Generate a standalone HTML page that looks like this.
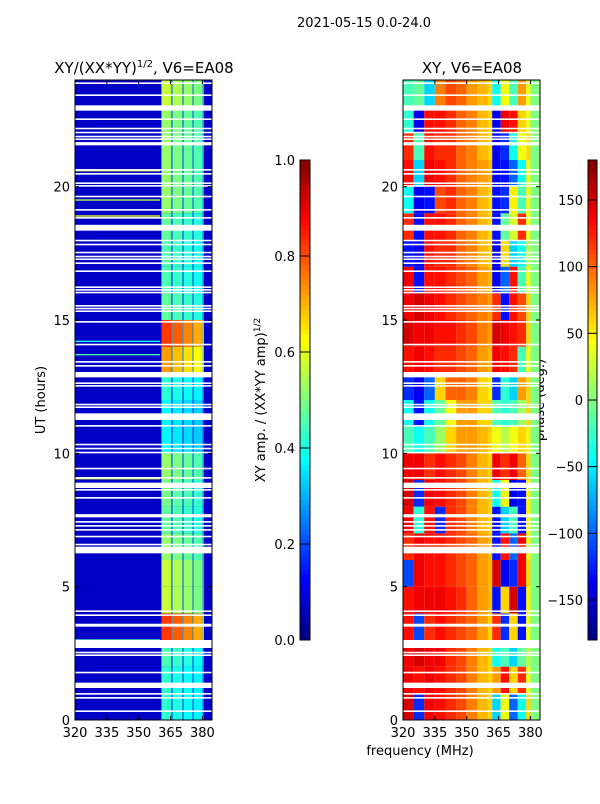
<!DOCTYPE html>
<html><head><meta charset="utf-8">
<style>
body{margin:0;background:#fff;width:600px;height:800px;overflow:hidden;font-family:"DejaVu Sans","Liberation Sans",sans-serif;}
svg text{font-family:"DejaVu Sans","Liberation Sans",sans-serif;fill:#000;}
</style></head>
<body>
<svg id="fig" width="600" height="800" xmlns="http://www.w3.org/2000/svg">
<text x="364" y="27" font-size="13" text-anchor="middle">2021-05-15 0.0-24.0</text>
<text x="144" y="73" font-size="15" text-anchor="middle">XY/(XX*YY)<tspan font-size="10" dy="-6">1/2</tspan><tspan dy="6">, V6=EA08</tspan></text>
<text x="472" y="73" font-size="15" text-anchor="middle">XY, V6=EA08</text>
<text x="45" y="400" font-size="13" text-anchor="middle" transform="rotate(-90 45 400)">UT (hours)</text>
<text x="420" y="755" font-size="13" text-anchor="middle">frequency (MHz)</text>
<text x="265" y="400" font-size="13" text-anchor="middle" transform="rotate(-90 265 400)">XY amp. / (XX*YY amp)<tspan font-size="9" dy="-5">1/2</tspan></text>
<text x="544" y="400" font-size="13" text-anchor="middle" transform="rotate(-90 544 400)">phase (deg.)</text>
<g id="left"></g>
<g id="right"></g>
<g id="cb1"></g>
<g id="cb2"></g>
<g id="axes"></g>
</svg>
<script>
// ---- data ----
const freqTicks = [320, 335, 350, 365, 380];
const utTicks = [0, 5, 10, 15, 20];
const ampTicks = [0.0, 0.2, 0.4, 0.6, 0.8, 1.0];
const phaseTicks = [-150, -100, -50, 0, 50, 100, 150];
// amplitude: bright band channels [fStart, fEnd, weight]
const bandStart = [360.7, 365.4, 365.9, 370.6, 371.1, 375.4, 375.8, 380.1];
const bandEnd   = [365.4, 365.9, 370.6, 371.1, 375.4, 375.8, 380.1, 380.7];
const bandWeight= [1.0, 0.3, 0.95, 0.3, 0.9, 0.3, 0.85, 0.5];
const ampBase = 0.07;
// per-hour amplitude of band (UT 0..23)
const hourAmp = [0.35,0.35,0.38,0.75,0.5,0.5,0.45,0.4,0.42,0.45,0.3,0.3,0.35,0.65,0.75,0.4,0.38,0.38,0.4,0.45,0.45,0.45,0.45,0.5];
// interference streaks (UT, amplitude)
const streakUT = [20.6, 19.5, 18.9, 14.2, 13.7, 9.05, 3.0];
const streakAmp = [0.6, 0.55, 0.6, 0.4, 0.45, 0.6, 0.45];
// phase grid: column edges (MHz) and per-hour values (deg)
const phaseEdges = [320,325,330,335,340,345,350,355,360,362,366,370,374,378,380,384.5];
const phaseRows = [
[150,-120,140,130,120,110,90,70,60,-60,40,-100,-40,60,0],
[140,130,140,130,120,110,90,70,60,80,130,60,120,40,0],
[140,150,140,140,120,110,90,70,60,-40,-20,-60,-10,20,0],
[130,-110,120,130,120,110,100,80,60,120,-120,60,-130,40,0],
[130,140,140,140,130,120,100,80,70,-130,60,150,-130,50,0],
[-110,140,130,130,120,110,100,80,70,150,-140,-120,140,60,0],
[120,140,130,130,120,110,100,80,70,-130,130,-100,140,50,0],
[140,-30,130,-120,120,110,90,70,60,-130,-60,-20,-130,50,0],
[150,-120,140,130,120,110,90,70,60,-40,40,-140,-130,50,0],
[140,140,120,130,120,110,90,70,60,140,120,140,100,60,0],
[-20,-40,-20,10,60,80,80,70,60,40,20,40,60,50,0],
[-40,-130,-40,-10,40,80,80,60,60,-20,-30,-20,10,60,0],
[-120,-140,-100,60,100,100,90,60,50,-120,-30,-60,80,60,0],
[130,140,130,120,120,110,100,80,70,140,130,120,-20,40,0],
[150,140,140,130,130,120,110,90,80,150,140,130,120,60,0],
[140,150,140,130,120,110,100,90,80,120,-130,130,110,60,0],
[140,-130,130,130,120,110,100,80,70,-140,-100,130,-20,40,0],
[-130,-140,130,120,120,100,90,70,60,-140,60,-60,-40,20,0],
[120,-130,130,130,120,100,90,70,60,-130,-10,30,120,40,0],
[-40,-140,-130,110,120,100,90,70,60,-130,-120,50,-20,40,0],
[130,-60,140,130,120,100,90,80,70,-140,-130,-100,-40,40,0],
[120,-20,130,120,120,100,90,70,60,-140,-120,-40,40,60,0],
[-30,-140,130,130,120,100,90,70,60,-140,140,130,60,40,0],
[-20,-10,-60,90,110,100,80,70,60,-40,40,-20,80,40,0]];
// flagged (white) time ranges: start UT, duration hours
const gapStart = [23.85,23.4,22.85,22.5,22.15,22.0,21.85,21.75,21.55,20.6,20.45,20.1,20.0,19.6,19.1,18.8,18.35,17.95,17.8,17.5,17.35,17.25,17.1,16.8,16.2,16.1,16.0,15.5,15.4,15.3,14.9,14.05,13.4,13.25,12.85,12.6,12.5,11.8,11.7,11.25,11.0,10.3,10.15,10.0,9.4,9.05,8.7,8.6,8.3,7.6,7.4,7.25,7.1,6.85,6.55,6.25,4.05,3.9,3.55,3.5,2.7,2.5,2.4,1.75,1.2,0.95,0.8,0.3];
const gapLen = [0.06,0.06,0.2,0.06,0.06,0.06,0.06,0.06,0.12,0.06,0.06,0.06,0.06,0.06,0.06,0.06,0.22,0.06,0.06,0.06,0.06,0.06,0.06,0.06,0.06,0.06,0.06,0.06,0.06,0.06,0.06,0.06,0.06,0.06,0.2,0.06,0.06,0.06,0.06,0.25,0.06,0.06,0.06,0.06,0.06,0.06,0.2,0.06,0.06,0.12,0.06,0.06,0.06,0.06,0.06,0.25,0.06,0.06,0.06,0.06,0.3,0.06,0.06,0.06,0.2,0.06,0.06,0.06];

// ---- helpers ----
const NS = "http://www.w3.org/2000/svg";
const Y0 = 720, Y1 = 80, F0 = 320, F1 = 384.5;
function yOf(ut){ return Y0 - (ut/24)*(Y0-Y1); }
function xOfL(f){ return 75 + (f-F0)/(F1-F0)*137; }
function xOfR(f){ return 403 + (f-F0)/(F1-F0)*137; }
function jet(v){
  v = Math.max(0, Math.min(1, v));
  const r = Math.max(0, Math.min(1, 1.5 - Math.abs(4*v-3)));
  const g = Math.max(0, Math.min(1, 1.5 - Math.abs(4*v-2)));
  const b = Math.max(0, Math.min(1, 1.5 - Math.abs(4*v-1)));
  return `rgb(${Math.round(r*255)},${Math.round(g*255)},${Math.round(b*255)})`;
}
function rect(parent, x, y, w, h, fill){
  const r = document.createElementNS(NS, "rect");
  r.setAttribute("x", x); r.setAttribute("y", y);
  r.setAttribute("width", w); r.setAttribute("height", h);
  r.setAttribute("fill", fill);
  parent.appendChild(r); return r;
}
function text(parent, x, y, s, anchor){
  const t = document.createElementNS(NS, "text");
  t.setAttribute("x", x); t.setAttribute("y", y);
  t.setAttribute("font-size", "13");
  t.setAttribute("text-anchor", anchor);
  t.textContent = s; parent.appendChild(t); return t;
}
function line(parent, x1, y1, x2, y2, c, w){
  const l = document.createElementNS(NS, "line");
  l.setAttribute("x1", x1); l.setAttribute("y1", y1);
  l.setAttribute("x2", x2); l.setAttribute("y2", y2);
  l.setAttribute("stroke", c || "#000"); l.setAttribute("stroke-width", w || 1);
  parent.appendChild(l); return l;
}

// ---- left heatmap ----
const L = document.getElementById("left");
const bg = rect(L, 75, 80, 137, 640, jet(ampBase));


for (let h = 0; h < 24; h++) {
  for (let b = 0; b < bandStart.length; b++) {
    const x = xOfL(bandStart[b]), x2 = xOfL(bandEnd[b]);
    const c = rect(L, x, yOf(h+1), x2-x, yOf(h)-yOf(h+1), jet(ampBase + bandWeight[b]*hourAmp[h]));
    
    
  }
}
for (let i = 0; i < streakUT.length; i++) {
  const s = rect(L, 75, yOf(streakUT[i])-0.7, xOfL(360)-75, 1.4, jet(streakAmp[i]));
  
  
}
// ---- right heatmap ----
const R = document.getElementById("right");
for (let h = 0; h < 24; h++) {
  for (let c = 0; c < phaseEdges.length-1; c++) {
    const x = xOfR(phaseEdges[c]), x2 = xOfR(phaseEdges[c+1]);
    const cell = rect(R, x, yOf(h+1), x2-x, yOf(h)-yOf(h+1), jet((phaseRows[h][c]+180)/360));
    
    
  }
}
// gaps
for (let i = 0; i < gapStart.length; i++) {
  const y = yOf(gapStart[i]+gapLen[i]), hh = yOf(gapStart[i]) - y;
  const g1 = rect(L, 75, y, 137, hh, "#fff");
  
  
  const g2 = rect(R, 403, y, 137, hh, "#fff");
  
  
}
// ---- axes ----
const A = document.getElementById("axes");
[[75, xOfL], [403, xOfR]].forEach(([x0, xf], pi) => {
  const fr = rect(A, x0, 80, 137, 640, "none");
  fr.setAttribute("stroke", "#000");
  
  
  freqTicks.forEach(f => {
    const x = xf(f);
    line(A, x, 720, x, 716); line(A, x, 80, x, 84);
    const t = text(A, x, 737, String(f), "middle");
    
    
  });
  utTicks.forEach(u => {
    const y = yOf(u);
    line(A, x0, y, x0+4, y); line(A, x0+137, y, x0+133, y);
    const t = text(A, x0-5, y+5, String(u), "end");
    
    
  });
});
// ---- colorbars ----
function colorbar(id, x, w, ticks, vmin, vmax, fmt){
  const G = document.getElementById(id);
  const n = 96;
  for (let i = 0; i < n; i++) {
    const s = rect(G, x, 160 + i*5, w, 5.5, jet(1 - (i+0.5)/n));
    
    
  }
  const fr = rect(G, x, 160, w, 480, "none"); fr.setAttribute("stroke", "#000");
  ticks.forEach(v => {
    const y = 640 - (v-vmin)/(vmax-vmin)*480;
    line(G, x, y, x+w, y);
    const t = text(G, x-5, y+5, fmt(v), "end");
    
    
  });
}
colorbar("cb1", 300, 10, ampTicks, 0, 1, v => v.toFixed(1));
colorbar("cb2", 588, 9, phaseTicks, -180, 180, v => v < 0 ? "\u2212" + Math.abs(v) : String(v));
</script>
</body></html>
